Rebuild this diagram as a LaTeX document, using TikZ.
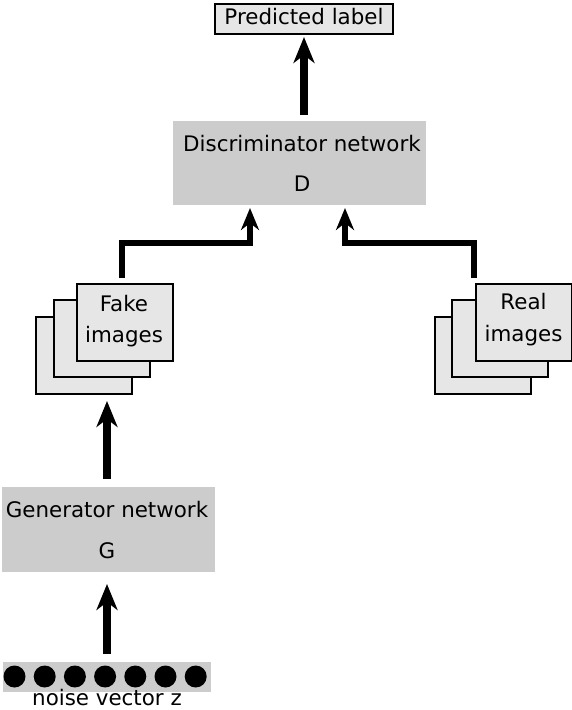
\documentclass[tikz,border=0pt]{standalone}
\usepackage{fontspec}
\setmainfont{DejaVu Sans}
\usetikzlibrary{arrows.meta}
\definecolor{boxgray}{HTML}{CCCCCC}
\definecolor{lightbox}{HTML}{E6E6E6}
\tikzset{
  netbox/.style={fill=boxgray, draw=none, inner sep=0pt, anchor=north west},
  imgbox/.style={fill=lightbox, draw=black, line width=2pt, inner sep=0pt, minimum width=96pt, minimum height=77pt, anchor=north west},
  txt/.style={font=\fontsize{21.4}{24}\selectfont, anchor=base, inner sep=0pt},
  bigarrow/.style={line width=7.5pt, -{Stealth[length=26pt,width=21pt,inset=8pt]}},
  elbowarrow/.style={line width=6pt, -{Stealth[length=22pt,width=18pt,inset=7pt]}},
  dot/.style={circle, fill=black, minimum size=22pt, inner sep=0pt}
}
\begin{document}
\begin{tikzpicture}[x=1pt,y=-1pt]
\useasboundingbox (0,0) rectangle (572,710);
% Predicted label
\node[fill=lightbox, draw=black, line width=2pt, minimum width=178pt, minimum height=30pt, inner sep=0pt] (P) at (304,18.5) {};
\node[txt] (Pt) at (304,24) {Predicted label};
% Discriminator
\node[netbox, minimum width=253pt, minimum height=84pt] (D) at (173,121) {};
\node[txt] (Dt1) at (302,151) {Discriminator network};
\node[txt] (Dt2) at (302,191) {D};
% Generator
\node[netbox, minimum width=213pt, minimum height=85pt] (G) at (2,487) {};
\node[txt] (Gt1) at (107,517) {Generator network};
\node[txt] (Gt2) at (107,558) {G};
% Fake stack
\node[imgbox] (F3) at (35,316) {};
\node[imgbox] (F2) at (53,299) {};
\node[imgbox] (F1) at (76,283) {};
\node[txt] (Ft1) at (124,311) {Fake};
\node[txt] (Ft2) at (124,342.5) {images};
% Real stack
\node[imgbox] (R3) at (434,316) {};
\node[imgbox] (R2) at (451,299) {};
\node[imgbox] (R1) at (475,283) {};
\node[txt] (Rt1) at (523.5,309.5) {Real};
\node[txt] (Rt2) at (523.5,341.5) {images};
% Noise vector
\node[fill=boxgray, minimum width=208pt, minimum height=30pt, inner sep=0pt, anchor=north west] (N) at (3,662) {};
\foreach \i in {0,...,6} {
  \node[dot] (n\i) at (14.5+30.2*\i,676.5) {};
}
\node[txt] (Nt) at (107,705) {noise vector z};
% Coordinates for arrows
\coordinate (a0) at (304,115);
\coordinate (a1) at (304,37);
\coordinate (f0) at (121.5,278);
\coordinate (fm) at (121.5,243);
\coordinate (f1) at (250,208);
\coordinate (r0) at (474,278);
\coordinate (rm) at (474,243);
\coordinate (r1) at (345,208);
\coordinate (g0) at (107,479);
\coordinate (g1) at (107,401);
\coordinate (z0) at (107,654);
\coordinate (z1) at (107,584);
% Arrows
\draw[bigarrow] (a0) -- (a1);
\draw[elbowarrow] (f0) -- (fm) -| (f1);
\draw[elbowarrow] (r0) -- (rm) -| (r1);
\draw[bigarrow] (g0) -- (g1);
\draw[bigarrow] (z0) -- (z1);
\end{tikzpicture}
\end{document}
